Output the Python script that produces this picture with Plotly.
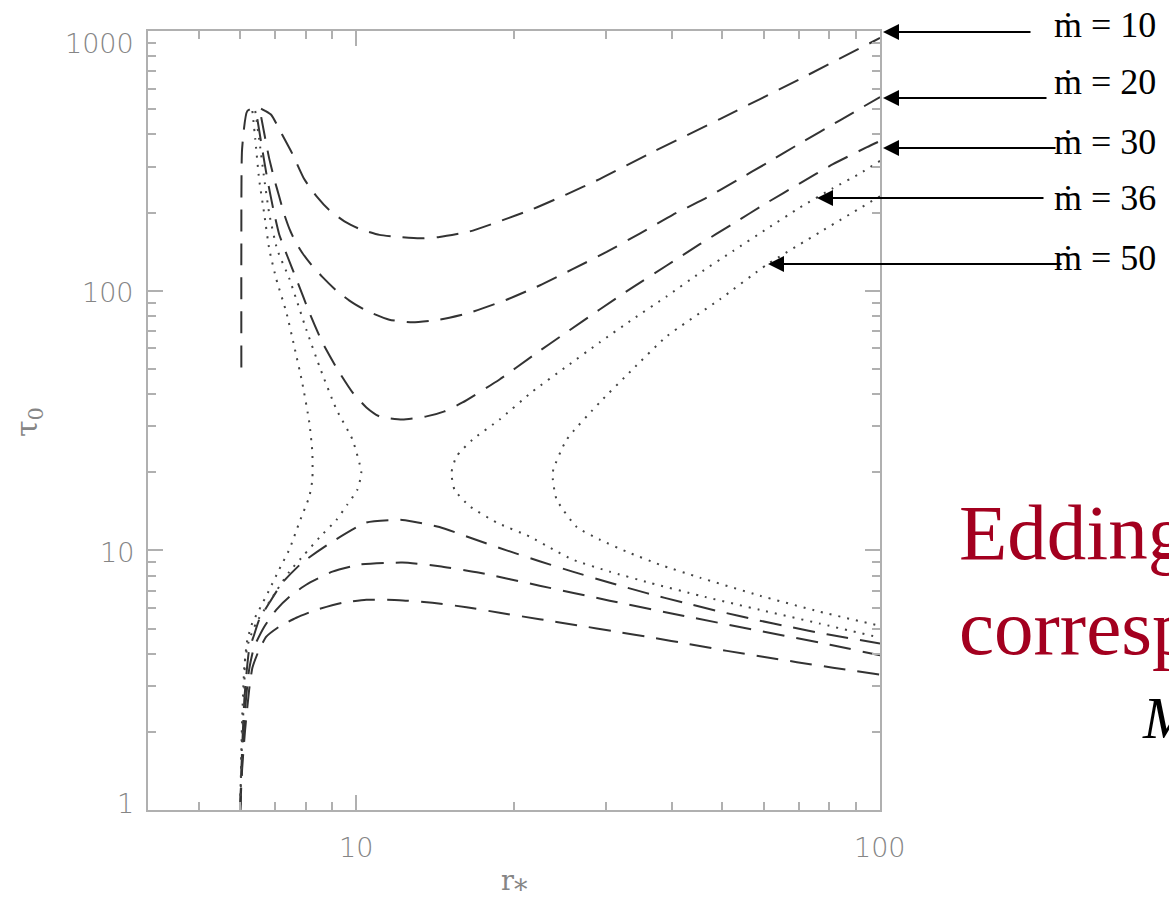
import numpy as np
import plotly.graph_objects as go

# ---------------------------------------------------------------
# Solution branches in the (r_*, tau_0) plane for several mdot.
# Upper and lower branches are kept separately.
# ---------------------------------------------------------------

# mdot = 10
r_m10_upper = [6.03, 6.03, 6.05, 6.19, 6.47, 6.70, 6.88, 7.19, 7.55, 7.95, 8.42, 8.88,
               9.49, 10.13, 11.07, 12.08, 13.20, 14.41, 16.45, 18.77, 21.70, 25.21,
               29.15, 36.81, 49.45, 70.31, 100.0]
tau_m10_upper = [50.6, 144, 351, 492, 510, 492, 475, 404, 336, 269, 229, 204,
                 185, 173, 164, 161, 159, 161, 169, 185, 206, 235,
                 269, 342, 458, 653, 940]
r_m10_lower = [6.00, 6.05, 6.13, 6.24, 6.33, 6.52, 6.73, 7.12, 7.68, 8.38, 9.40, 10.45,
               12.08, 13.97, 16.23, 18.77, 22.38, 26.35, 31.41, 36.81, 43.33, 51.00,
               59.75, 69.39, 81.31, 100.0]
tau_m10_lower = [1.00, 1.43, 2.03, 2.90, 3.53, 4.14, 4.65, 5.08, 5.50, 5.90, 6.28, 6.45,
                 6.43, 6.28, 6.04, 5.75, 5.43, 5.15, 4.86, 4.61, 4.35, 4.10,
                 3.89, 3.71, 3.53, 3.32]

# mdot = 20
r_m20_upper = [6.58, 6.70, 6.82, 6.97, 7.12, 7.28, 7.45, 7.64, 7.88, 8.20, 8.61, 9.16,
               9.70, 10.45, 11.56, 12.80, 14.41, 16.45, 19.36, 22.38, 25.88, 30.06,
               34.77, 40.2, 45.9, 53.29, 60.81, 70.31, 83.85, 100.0]
tau_m20_upper = [466, 384, 321, 269, 231, 197, 173, 155, 140, 126, 113, 100,
                 91.6, 83.7, 77.3, 75.5, 77.3, 82.2, 92.3, 104.7, 121, 141,
                 166, 196, 224, 266, 310, 369, 453, 557]
r_m20_lower = [6.00, 6.05, 6.11, 6.16, 6.24, 6.38, 6.67, 7.03, 7.45, 8.02, 9.00, 10.13,
               12.24, 14.41, 17.19, 22.38, 30.46, 42.02, 58.19, 80.25, 100.0]
tau_m20_lower = [1.00, 1.56, 2.22, 2.73, 3.47, 4.25, 5.08, 5.90, 6.63, 7.37, 8.28, 8.81,
                 8.97, 8.69, 8.20, 7.31, 6.40, 5.60, 4.92, 4.33, 3.94]

# mdot = 30
r_m30_upper = [6.47, 6.61, 6.76, 6.94, 7.12, 7.38, 7.68, 8.13, 8.61, 9.20, 9.83, 10.45,
               11.07, 12.24, 13.61, 14.73, 15.95, 18.77, 21.70, 25.21, 29.15, 33.70,
               39.15, 45.28, 52.36, 60.81, 70.31, 81.31, 94.43, 100.0]
tau_m30_upper = [458, 351, 269, 206, 165, 136, 111, 82.5, 63.2, 49.8, 40.6, 35.5,
                 32.8, 31.9, 32.8, 34.3, 37.1, 45.5, 56.1, 69.2, 84.6, 103,
                 125, 151, 181, 218, 259, 307, 357, 377]
r_m30_lower = [6.00, 6.05, 6.11, 6.16, 6.24, 6.38, 6.52, 6.82, 7.22, 7.88, 9.00, 10.45,
               12.24, 14.41, 16.45, 19.36, 22.38, 25.88, 30.86, 35.85, 42.02, 49.45,
               58.19, 67.29, 79.21, 100.0]
tau_m30_lower = [1.00, 1.70, 2.66, 3.26, 4.14, 4.73, 5.40, 6.28, 7.50, 8.97, 10.8, 12.8,
                 13.1, 12.3, 11.2, 10.0, 9.08, 8.28, 7.45, 6.84, 6.30, 5.81,
                 5.39, 5.07, 4.75, 4.38]

# mdot = 36 (inner and outer branches)
r_m36_inner = [6.41, 6.52, 6.67, 6.82, 7.06, 7.45, 8.02, 8.50, 9.16, 9.83, 10.22, 10.04,
               9.61, 9.16, 8.50, 7.95, 7.45, 7.06, 6.73, 6.44, 6.24, 6.13, 6.11, 6.05, 6.00]
tau_m36_inner = [492, 384, 269, 197, 144, 111, 71.0, 51.1, 34.9, 26.7, 19.9, 17.1,
                 15.0, 13.1, 11.2, 9.62, 8.28, 7.05, 6.07, 5.26, 4.52, 3.79, 2.90, 1.86, 1.00]
r_m36_outer = [100.0, 91.6, 81.31, 70.31, 60.81, 52.36, 45.28, 39.15, 33.70, 29.15, 25.21,
               21.70, 18.77, 16.67, 15.53, 15.19, 15.40, 16.45, 18.52, 21.42, 23.70,
               25.88, 30.46, 36.33, 45.28, 58.96, 76.80, 100.0]
tau_m36_outer = [316, 283, 248, 209, 173, 142, 117, 95.1, 77.6, 63.2, 51.1,
                 40.9, 31.9, 26.7, 23.0, 19.9, 17.1, 14.8, 12.8, 11.3, 10.1,
                 9.21, 8.28, 7.50, 6.69, 5.90, 5.22, 4.61]

# mdot = 50 (inner and outer branches)
r_m50_inner = [6.33, 6.41, 6.52, 6.67, 6.82, 7.03, 7.35, 7.61, 7.88, 8.13, 8.24, 8.24,
               8.13, 7.78, 7.45, 7.12, 6.82, 6.52, 6.33, 6.19, 6.11, 6.05, 6.00]
tau_m50_inner = [492, 384, 269, 197, 144, 111, 82.5, 61.0, 44.3, 31.1, 23.8, 18.7,
                 16.1, 12.8, 10.1, 8.43, 7.05, 5.90, 5.26, 4.52, 3.56, 2.22, 1.00]
r_m50_outer = [100.0, 76.80, 60.81, 49.45, 39.15, 33.70, 29.15, 25.21, 23.70, 24.12,
               26.35, 29.15, 32.83, 37.96, 45.28, 58.96, 76.80, 100.0]
tau_m50_outer = [231, 168, 126, 92.6, 66.7, 49.8, 37.1, 26.7, 19.9, 15.7,
                 12.3, 11.0, 9.88, 8.81, 7.85, 6.69, 5.80, 5.12]

# Curve labels
mdot_labels = ["ṁ = 10", "ṁ = 20", "ṁ = 30", "ṁ = 36", "ṁ = 50"]

# Axis tick labels
x_tick_vals = [10, 100]
x_tick_text = ["10", "100"]
y_tick_vals = [1, 10, 100, 1000]
y_tick_text = ["1", "10", "100", "1000"]

# ---------------------------------------------------------------
DASH = "22px,12px"
DOT = "2px,7px"

fig = go.Figure()


def add_branch(r, tau, dash, color="#333333"):
    fig.add_trace(go.Scatter(
        x=r, y=tau, mode="lines",
        line=dict(color=color, width=2, dash=dash, shape="spline", smoothing=0.5),
        hoverinfo="skip", showlegend=False,
    ))


for r, t in [(r_m10_upper, tau_m10_upper), (r_m10_lower, tau_m10_lower),
             (r_m20_upper, tau_m20_upper), (r_m20_lower, tau_m20_lower),
             (r_m30_upper, tau_m30_upper), (r_m30_lower, tau_m30_lower)]:
    add_branch(r, t, DASH)

for r, t in [(r_m36_inner, tau_m36_inner), (r_m36_outer, tau_m36_outer),
             (r_m50_inner, tau_m50_inner), (r_m50_outer, tau_m50_outer)]:
    add_branch(r, t, DOT, color="#444444")

# ---------------------------------------------------------------
W, H = 1169, 900
ML, MR, MT, MB = 148, 289, 31, 90
PW, PH = W - ML - MR, H - MT - MB


def paper(px, py):
    """Pixel position on the page -> paper coordinates."""
    return (px - ML) / PW, (H - MB - py) / PH


AXIS_GREY = "#b0b0b0"
LABEL_GREY = "#858585"
TICK_FONT = dict(family="DejaVu Sans", size=27, color=LABEL_GREY, weight=300)

common_axis = dict(
    type="log", dtick=1, showgrid=False, zeroline=False, showticklabels=False,
    showline=True, linecolor=AXIS_GREY, linewidth=2, mirror="allticks",
    ticks="inside", ticklen=15, tickwidth=1.5, tickcolor=AXIS_GREY,
    minor=dict(ticks="inside", ticklen=8, tickwidth=1.5, tickcolor=AXIS_GREY,
               dtick="D1", showgrid=False),
)

fig.update_xaxes(range=[np.log10(4), 2], **common_axis)
fig.update_yaxes(range=[0, 3], **common_axis)

annotations = []

# tick labels
for v, t in zip(x_tick_vals, x_tick_text):
    annotations.append(dict(x=np.log10(v), y=-0.048, xref="x", yref="paper",
                            text=t, showarrow=False, xanchor="center", yanchor="middle",
                            font=TICK_FONT))
y_label_shift = [7, -2, -2, -12]   # label centre offset from its tick, in px
for v, t, s in zip(y_tick_vals, y_tick_text, y_label_shift):
    annotations.append(dict(x=-0.017, y=np.log10(v), xref="paper", yref="y",
                            yshift=s, text=t, showarrow=False,
                            xanchor="right", yanchor="middle", font=TICK_FONT))

# arrows from the labels to the curves (head and tail in page pixels)
arrow_heads = [(883, 32), (883, 98), (883, 148), (817, 198), (768, 264)]
arrow_tails_x = [1032, 1048, 1057, 1045, 1063]
for (hx, hy), tx in zip(arrow_heads, arrow_tails_x):
    x, y = paper(hx, hy)
    annotations.append(dict(
        x=x, y=y, xref="paper", yref="paper",
        ax=tx - hx, ay=0, axref="pixel", ayref="pixel",
        text="", showarrow=True, arrowhead=2, arrowsize=1.6,
        arrowwidth=2, arrowcolor="black",
    ))

label_y_px = [25, 82, 142, 198, 258]
for text, ly in zip(mdot_labels, label_y_px):
    x, y = paper(1052, ly)
    annotations.append(dict(
        x=x, y=y, xref="paper", yref="paper", xanchor="left", yanchor="middle",
        text=text, showarrow=False,
        font=dict(family="Liberation Serif, DejaVu Serif, serif", size=36, color="black"),
    ))

# axis titles
x, y = paper(28, 422)
annotations.append(dict(x=x, y=y, xref="paper", yref="paper", text="τ<sub>0</sub>",
                        textangle=-90, showarrow=False,
                        xanchor="center", yanchor="middle",
                        font=dict(family="DejaVu Serif", size=30, color=LABEL_GREY)))
x, y = paper(514, 880)
annotations.append(dict(x=x, y=y, xref="paper", yref="paper", text="r⁎",
                        showarrow=False, xanchor="center", yanchor="middle",
                        font=dict(family="DejaVu Serif, DejaVu Sans", size=27,
                                  color=LABEL_GREY)))

# side text
RED = "#A3001F"
for text, cy in [("Eddington", 532), ("corresponding", 627)]:
    x, y = paper(957, cy)
    annotations.append(dict(
        x=x, y=y, xref="paper", yref="paper", xanchor="left", yanchor="middle",
        text=text, showarrow=False,
        font=dict(family="Liberation Serif, serif", size=79, color=RED),
    ))
x, y = paper(1140, 718)
annotations.append(dict(
    x=x, y=y, xref="paper", yref="paper", xanchor="left", yanchor="middle",
    text="<i>M</i>", showarrow=False,
    font=dict(family="Liberation Serif, serif", size=60, color="black"),
))

fig.update_layout(
    width=W, height=H,
    margin=dict(l=ML, r=MR, t=MT, b=MB, pad=0),
    paper_bgcolor="white", plot_bgcolor="white",
    showlegend=False,
    annotations=annotations,
)

fig.write_html("out.html")
